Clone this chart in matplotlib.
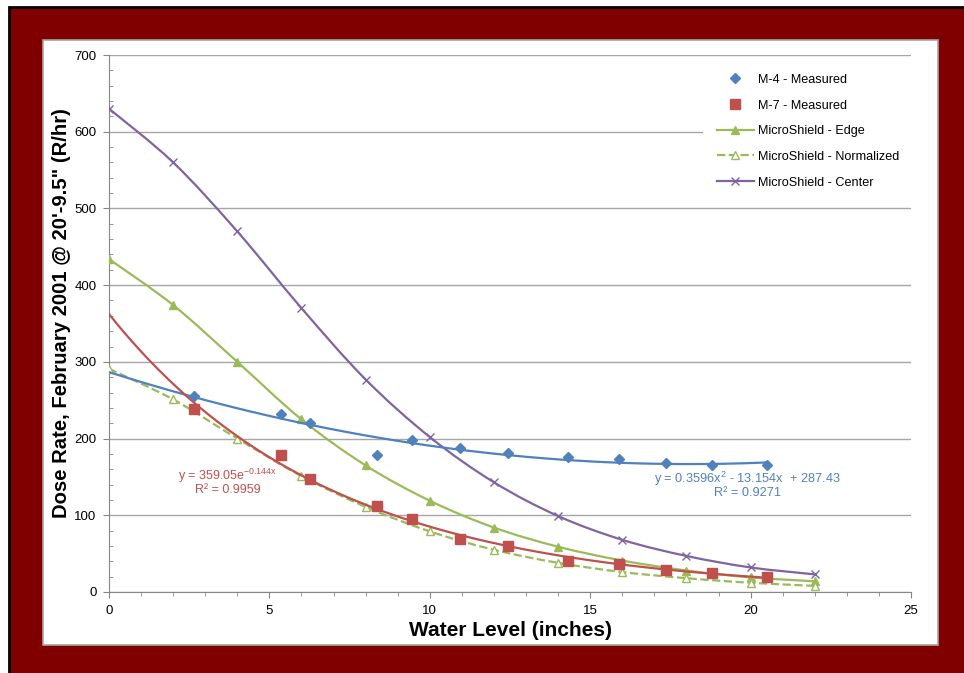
"""Dose rate vs water level, measured points and MicroShield curves"""
import numpy as np
import matplotlib
matplotlib.use('Agg')
import matplotlib.pyplot as plt
from matplotlib.path import Path
from matplotlib.patches import PathPatch, Rectangle
from matplotlib.lines import Line2D
from matplotlib.ticker import MultipleLocator

plt.rcParams['font.family'] = ['Liberation Sans', 'DejaVu Sans']
plt.rcParams['mathtext.fontset'] = 'custom'
plt.rcParams['mathtext.rm'] = 'Liberation Sans'

# measured points (water level in inches, dose rate R/hr)
meas_x = [2.65, 5.35, 6.25, 8.35, 9.45, 10.95, 12.45, 14.3, 15.9, 17.35, 18.8, 20.5]
m4 = [256, 232, 220, 178, 198, 188, 181, 176, 173, 168, 166, 165]
m7 = [238, 179, 147, 112, 95, 69, 60, 41, 37, 29, 25, 19]

# MicroShield calculations
ms_x = [0, 2, 4, 6, 8, 10, 12, 14, 16, 18, 20, 22]
edge = [434, 374, 300, 225, 165, 119, 84, 59, 41, 28, 19, 14]
normalized = [291, 251, 200, 151, 111, 79, 55, 38, 26, 18, 12, 8]
center = [630, 560, 470, 370, 277, 202, 143, 99, 68, 47, 32, 23]

BLUE = '#4F81BD'
RED = '#C0504D'
GREEN = '#9BBB59'
PURPLE = '#8064A2'


def smooth_path(x, y):
    """Excel style smoothed line as a bezier path"""
    p = np.column_stack([x, y]).astype(float)
    ext = np.vstack([p[0], p, p[-1]])
    verts = [p[0]]
    codes = [Path.MOVETO]
    for i in range(len(p) - 1):
        c1 = p[i] + (ext[i + 2] - ext[i]) / 6
        c2 = p[i + 1] - (ext[i + 3] - ext[i + 1]) / 6
        verts += [c1, c2, p[i + 1]]
        codes += [Path.CURVE4] * 3
    return Path(verts, codes)


fig = plt.figure(figsize=(9.64, 6.73), dpi=100)
W, H = 964, 673

# maroon frame and white panel
fig.patches.append(Rectangle((9 / W, -0.05), 1.1, 1 - 7 / H + 0.05,
                             transform=fig.transFigure, facecolor='#800000',
                             edgecolor='black', linewidth=2, zorder=-3))
fig.patches.append(Rectangle((43 / W, 1 - 645 / H), (938 - 43) / W, (645 - 40) / H,
                             transform=fig.transFigure, facecolor='white',
                             edgecolor='#A6A6A6', linewidth=1.2, zorder=-2))

ax = fig.add_axes([109 / W, 1 - 592 / H, (911 - 109) / W, (592 - 55) / H])
ax.set_facecolor('none')

# smoothed MicroShield lines
for y, c, ls in [(edge, GREEN, '-'), (normalized, GREEN, '--'), (center, PURPLE, '-')]:
    ax.add_patch(PathPatch(smooth_path(ms_x, y), facecolor='none', edgecolor=c,
                           linewidth=1.6, linestyle=ls, zorder=3))
ax.plot(ms_x, edge, linestyle='none', marker='^', markersize=5.5, color=GREEN, zorder=4)
ax.plot(ms_x, normalized, linestyle='none', marker='^', markersize=5.5,
        markerfacecolor='white', markeredgecolor=GREEN, markeredgewidth=1, zorder=4)
ax.plot(ms_x, center, linestyle='none', marker='x', markersize=5.5,
        color=PURPLE, markeredgewidth=1, zorder=4)

# trendlines fitted from the measured points
xt = np.linspace(0, meas_x[-1], 200)
poly = np.polyfit(meas_x, m4, 2)
ax.plot(xt, np.polyval(poly, xt), color=BLUE, linewidth=1.6, zorder=5)
ex = np.polyfit(meas_x, np.log(m7), 1)
ax.plot(xt, np.exp(np.polyval(ex, xt)), color=RED, linewidth=1.6, zorder=5)

ax.plot(meas_x, m4, linestyle='none', marker='D', markersize=5.5, color=BLUE, zorder=6)
ax.plot(meas_x, m7, linestyle='none', marker='s', markersize=7.5, color=RED, zorder=6)

ax.text(3.7, 151, r'y = 359.05e$^{\mathregular{-0.144x}}$', color=RED, fontsize=9,
        ha='center', va='center', zorder=7)
ax.text(3.7, 133, 'R² = 0.9959', color=RED, fontsize=9, ha='center', va='center', zorder=7)
ax.text(19.9, 148, r'y = 0.3596x$^{\mathregular{2}}$ - 13.154x  + 287.43', color=BLUE,
        fontsize=9.2, ha='center', va='center', zorder=7)
ax.text(19.9, 129, 'R² = 0.9271', color=BLUE, fontsize=9.2, ha='center', va='center', zorder=7)

# axes styling
ax.set_xlim(0, 25)
ax.set_ylim(0, 700)
ax.xaxis.set_major_locator(MultipleLocator(5))
ax.xaxis.set_minor_locator(MultipleLocator(1))
ax.yaxis.set_major_locator(MultipleLocator(100))
ax.yaxis.set_minor_locator(MultipleLocator(20))
ax.grid(axis='y', which='major', color='#A6A6A6', linewidth=1, zorder=0)
ax.set_axisbelow(True)
for s in ['top', 'right']:
    ax.spines[s].set_visible(False)
for s in ['left', 'bottom']:
    ax.spines[s].set_color('#868686')
ax.tick_params(which='major', length=4, color='#868686', labelsize=9.5, pad=5)
ax.tick_params(axis='y', which='minor', direction='in', length=3, color='#868686')
ax.tick_params(axis='x', which='minor', direction='out', length=3, color='#868686')

ax.set_xlabel('Water Level (inches)', fontsize=15, fontweight='bold', va='center')
ax.set_ylabel('Dose Rate, February 2001 @ 20\'-9.5" (R/hr)', fontsize=14.6,
              fontweight='bold', va='center')
ax.xaxis.set_label_coords(0.5, (592 - 631) / 537)
ax.yaxis.set_label_coords((62 - 109) / 802, 0.5 + (592 - 313 - 268.5) / 537)

handles = [
    Line2D([], [], linestyle='none', marker='D', markersize=5.5, color=BLUE),
    Line2D([], [], linestyle='none', marker='s', markersize=7.5, color=RED),
    Line2D([], [], color=GREEN, marker='^', markersize=5.5, linewidth=1.6),
    Line2D([], [], color=GREEN, linestyle='--', marker='^', markersize=5.5,
           markerfacecolor='white', linewidth=1.6),
    Line2D([], [], color=PURPLE, marker='x', markersize=5.5, linewidth=1.6),
]
labels = ['M-4 - Measured', 'M-7 - Measured', 'MicroShield - Edge',
          'MicroShield - Normalized', 'MicroShield - Center']
leg = ax.legend(handles, labels, loc='upper left', bbox_to_anchor=(703 / W, 1 - 60 / H),
                bbox_transform=fig.transFigure, frameon=True, facecolor='white',
                edgecolor='none', framealpha=1, fontsize=9.1, handlelength=2.9,
                handletextpad=0.35, labelspacing=1.08, borderpad=1.1,
                borderaxespad=0)
leg.set_zorder(8)

fig.savefig('out.png', dpi=100)
